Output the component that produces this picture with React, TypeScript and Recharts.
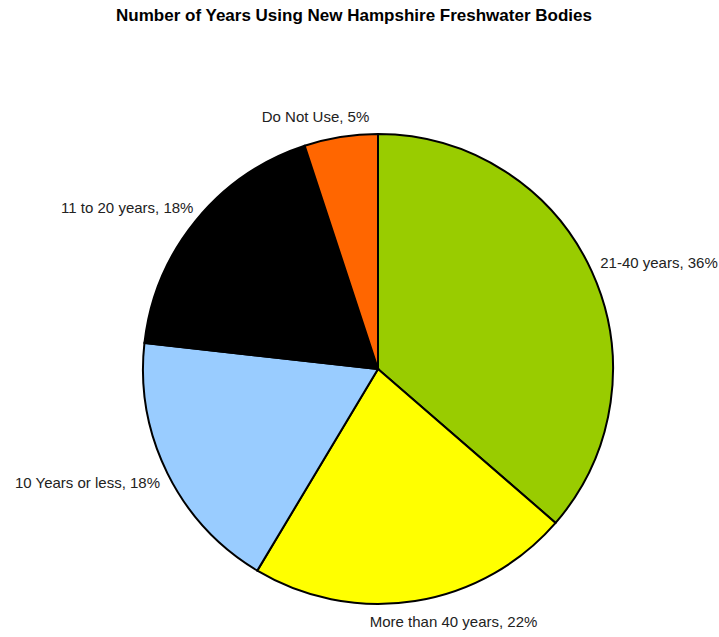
import React from "react";
import { PieChart, Pie, Cell } from "recharts";

const categories = [
  "21-40 years",
  "More than 40 years",
  "10 Years or less",
  "11 to 20 years",
  "Do Not Use",
];
const shares = [36, 22, 18, 18, 5];
const sliceColors = ["#99CC00", "#FFFF00", "#99CCFF", "#000000", "#FF6600"];

const data = categories.map((name, i) => ({ name, value: shares[i] }));

const LABEL_FONT = "15px 'Liberation Sans', Arial, sans-serif";

let ctx: CanvasRenderingContext2D | null = null;
function textWidth(s: string) {
  if (!ctx) {
    const c = document.createElement("canvas");
    ctx = c.getContext("2d");
  }
  if (!ctx) return s.length * 7.3;
  ctx.font = LABEL_FONT;
  return ctx.measureText(s).width;
}

// places label outside the slice, pushed away from the pie like Excel does
function renderLabel(props: any) {
  const { cx, cy, midAngle, outerRadius, name, value } = props;
  const rad = (midAngle * Math.PI) / 180;
  const s = Math.cos(rad); // horizontal component
  const c = Math.sin(rad); // vertical component (up)
  const r = outerRadius + 12;
  const text = `${name}, ${value}%`;
  const w = textWidth(text);
  const f = Math.sign(s) * Math.pow(Math.abs(s), 0.45);
  const x = cx + r * s + (w / 2) * f;
  const y = cy - r * c - 9 * c;
  return (
    <text
      x={x}
      y={y}
      textAnchor="middle"
      dominantBaseline="central"
      fill="#222"
      style={{ font: LABEL_FONT }}
    >
      {text}
    </text>
  );
}

export default function App() {
  return (
    <div
      style={{
        position: "absolute",
        top: 0,
        left: 0,
        width: 719,
        height: 637,
        background: "#fff",
      }}
    >
      <div
        style={{
          position: "absolute",
          top: 6,
          left: 0,
          width: 708,
          textAlign: "center",
          fontFamily: "'Liberation Sans', Arial, sans-serif",
          fontWeight: "bold",
          fontSize: 17,
          color: "#000",
        }}
      >
        Number of Years Using New Hampshire Freshwater Bodies
      </div>
      <PieChart
        width={719}
        height={637}
        margin={{ top: 0, right: 0, bottom: 0, left: 0 }}
      >
        <Pie
          data={data}
          dataKey="value"
          nameKey="name"
          cx={378}
          cy={369}
          outerRadius={235}
          startAngle={90}
          endAngle={-270}
          stroke="#000"
          strokeWidth={2}
          labelLine={false}
          label={renderLabel}
          isAnimationActive={false}
        >
          {data.map((d, i) => (
            <Cell key={d.name} fill={sliceColors[i]} />
          ))}
        </Pie>
      </PieChart>
    </div>
  );
}
